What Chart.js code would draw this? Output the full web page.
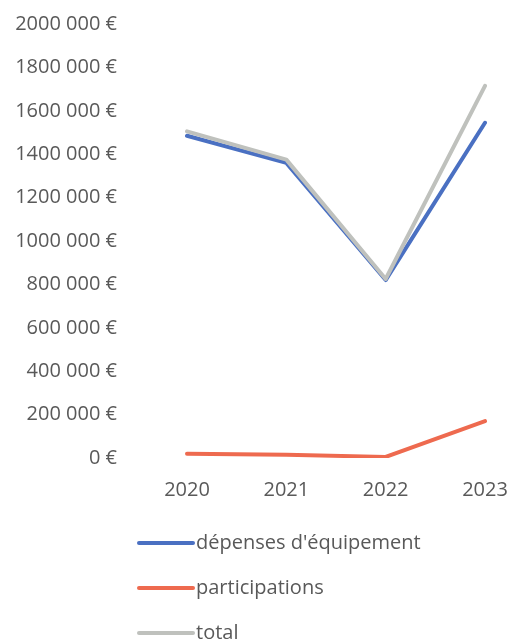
<!DOCTYPE html>
<html>
<head>
<meta charset="utf-8">
<script src="https://cdn.jsdelivr.net/npm/chart.js@4/dist/chart.umd.min.js"></script>
<style>
  html, body { margin: 0; padding: 0; background: #fff; }
  #wrap { width: 529px; height: 644px; position: relative; }
</style>
</head>
<body>
<div id="wrap"><canvas id="lines-graph"></canvas></div>
<script>
var years = ["2020", "2021", "2022", "2023"];
var depenses = [1485000, 1360000, 820000, 1545000];
var participations = [20000, 15000, 5000, 170000];
var total = [1505000, 1375000, 825000, 1715000];
var yTicks = [0, 200000, 400000, 600000, 800000, 1000000, 1200000, 1400000, 1600000, 1800000, 2000000];

var textColor = "#595959";
var fontFamily = "'Open Sans', sans-serif";
var fontSize = 20;

// "2000 000 €" style: only the last group of thousands is separated
function euro(v) {
	if (v === 0) return "0 €";
	var rest = String(v % 1000);
	while (rest.length < 3) rest = "0" + rest;
	return Math.floor(v / 1000) + " " + rest + " €";
}

// legend stacked one series per row under the axis
var stackedLegend = {
	id: "stackedLegend",
	afterDraw: function(chart) {
		var ctx = chart.ctx;
		ctx.save();
		ctx.font = fontSize + "px " + fontFamily;
		ctx.textBaseline = "middle";
		ctx.fillStyle = textColor;
		chart.data.datasets.forEach(function(ds, i) {
			var y = 543 + i * 45;
			ctx.strokeStyle = ds.borderColor;
			ctx.lineWidth = 4;
			ctx.lineCap = "round";
			ctx.beginPath();
			ctx.moveTo(139, y);
			ctx.lineTo(193, y);
			ctx.stroke();
			ctx.fillText(ds.label, 196, y);
		});
		ctx.restore();
	}
};

var ctx = document.getElementById("lines-graph").getContext("2d");
var LineChart = new Chart(ctx, {
	type: "line",
	data: {
		labels: years,
		datasets: [
			{
				label: "dépenses d'équipement",
				data: depenses,
				borderColor: "#4a70c2",
				backgroundColor: "#4a70c2",
				borderWidth: 4,
				pointRadius: 0,
				tension: 0,
				fill: false,
				borderCapStyle: "round",
				borderJoinStyle: "round",
				order: 2
			},
			{
				label: "participations",
				data: participations,
				borderColor: "#ee6a4f",
				backgroundColor: "#ee6a4f",
				borderWidth: 4,
				pointRadius: 0,
				tension: 0,
				fill: false,
				borderCapStyle: "round",
				borderJoinStyle: "round",
				order: 1
			},
			{
				label: "total",
				data: total,
				borderColor: "#bfc1bd",
				backgroundColor: "#bfc1bd",
				borderWidth: 4,
				pointRadius: 0,
				tension: 0,
				fill: false,
				borderCapStyle: "round",
				borderJoinStyle: "round",
				order: 0
			}
		]
	},
	options: {
		responsive: true,
		maintainAspectRatio: false,
		animation: false,
		layout: { padding: { top: 24, right: 44, bottom: 130, left: 0 } },
		plugins: {
			legend: { display: false },
			tooltip: { enabled: false }
		},
		scales: {
			x: {
				offset: false,
				grid: { display: false },
				border: { display: false },
				ticks: {
					color: textColor,
					font: { family: fontFamily, size: fontSize },
					padding: 12,
					maxRotation: 0,
					autoSkip: false
				}
			},
			y: {
				min: 0,
				max: 2000000,
				afterBuildTicks: function(scale) {
					scale.ticks = yTicks.map(function(v) { return { value: v }; });
				},
				afterFit: function(scale) { scale.width = 187; },
				// invisible tick marks keep the labels well left of the plot
				grid: {
					display: true,
					drawOnChartArea: false,
					drawTicks: true,
					tickLength: 66,
					color: "rgba(0,0,0,0)"
				},
				border: { display: false },
				ticks: {
					color: textColor,
					font: { family: fontFamily, size: fontSize },
					padding: 4,
					callback: function(v) { return euro(v); }
				}
			}
		}
	},
	plugins: [stackedLegend]
});
</script>
</body>
</html>
